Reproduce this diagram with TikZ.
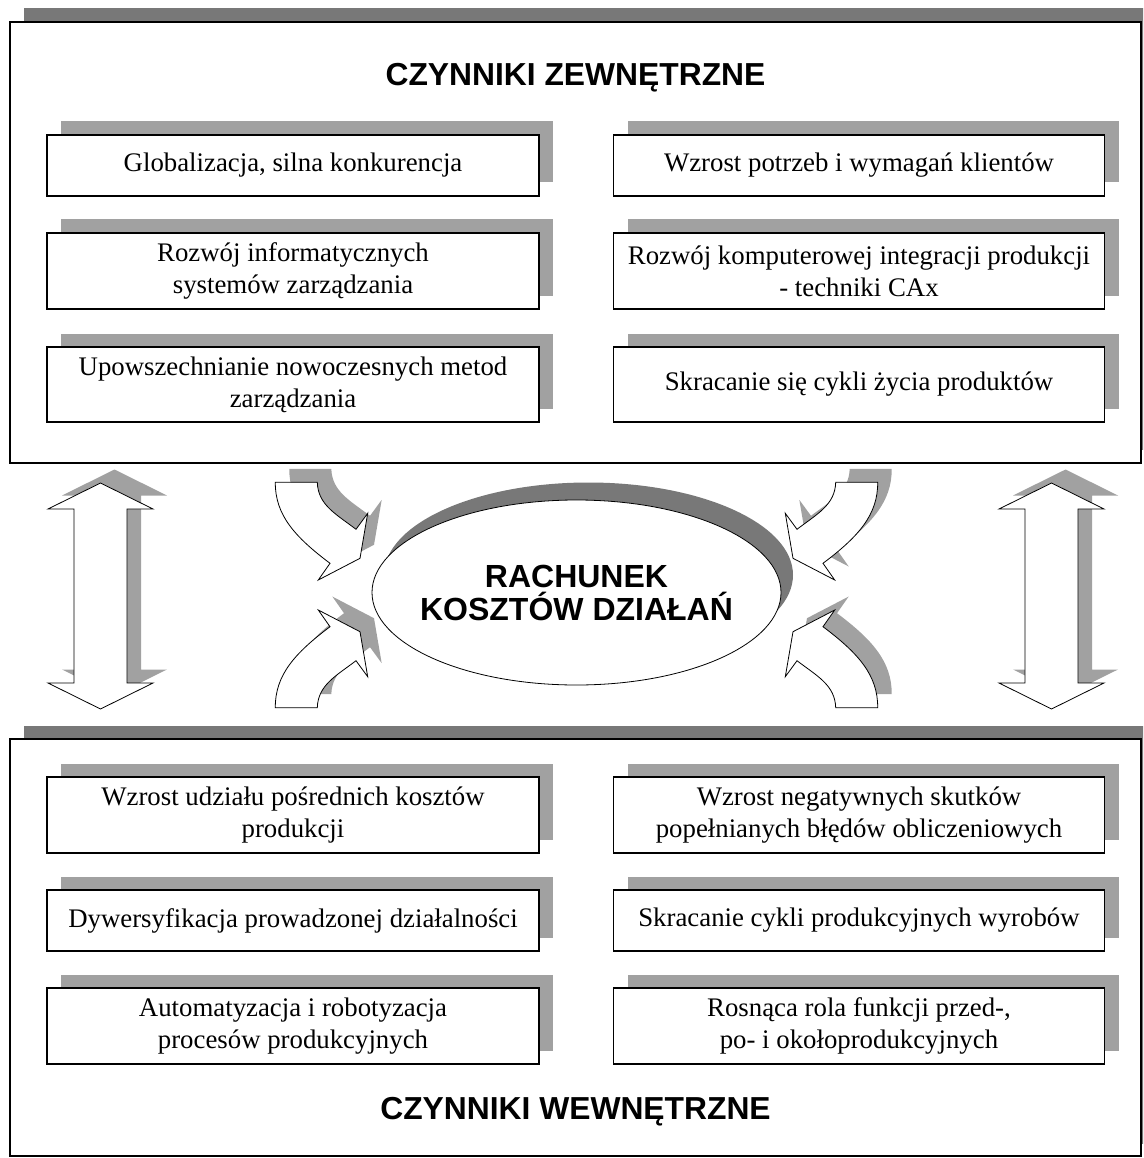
\documentclass[tikz,border=0pt]{standalone}
\usepackage{fontspec}
\setmainfont{Liberation Serif}
\newfontfamily\arialfont{Liberation Sans}
\usetikzlibrary{shapes.geometric,shadows}
\begin{document}
\begin{tikzpicture}[x=1pt,y=-1pt,
  frameshadow/.style={fill=black!53},
  framebox/.style={draw=black,line width=1.5pt,fill=white},
  factor/.style={draw=black,line width=1.5pt,fill=white,rectangle,inner sep=2pt,align=center,
     font=\fontsize{26.8}{32}\selectfont,
     drop shadow={shadow xshift=14pt,shadow yshift=13.5pt,fill=black!37,opacity=1}},
  lcol/.style={factor,minimum width=492pt},
  rcol/.style={factor,minimum width=491pt},
  oneline/.style={minimum height=61pt},
  twoline/.style={minimum height=76pt},
  titletext/.style={font=\arialfont\bfseries\fontsize{31.8}{34}\selectfont},
  arrshadow/.style={fill=black!37},
  arrbody/.style={draw=black,line width=0.8pt,fill=white,line join=miter}
]
\useasboundingbox (0,0) rectangle (1143,1158);
\clip (0,0) rectangle (1143,1158);

% frames
\fill[frameshadow] (24,8.5) rectangle (1155,449.5);
\draw[framebox] (10,22) rectangle (1141,463);
\fill[frameshadow] (24,725.5) rectangle (1155,1143.5);
\draw[framebox] (10,739) rectangle (1141,1156);

\node[titletext] (zew) at (575.5,78) {CZYNNIKI ZEWNĘTRZNE};
\node[titletext] (wew) at (575.5,1112) {CZYNNIKI WEWNĘTRZNE};

% external factors
\node[lcol,oneline] (z1) at (293,165.5) {Globalizacja, silna konkurencja};
\node[rcol,oneline] (z2) at (859,165.5) {Wzrost potrzeb i wymagań klientów};
\node[lcol,twoline] (z3) at (293,271) {Rozwój informatycznych\\systemów zarządzania};
\node[rcol,twoline] (z4) at (859,271) {Rozwój komputerowej integracji produkcji\\- techniki CAx};
\node[lcol,minimum height=75pt] (z5) at (293,384.5) {Upowszechnianie nowoczesnych metod\\zarządzania};
\node[rcol,minimum height=75pt] (z6) at (859,384.5) {Skracanie się cykli życia produktów};

% internal factors
\node[lcol,twoline] (w1) at (293,815) {Wzrost udziału pośrednich kosztów\\produkcji};
\node[rcol,twoline] (w2) at (859,815) {Wzrost negatywnych skutków\\popełnianych błędów obliczeniowych};
\node[lcol,oneline] (w3) at (293,920.5) {Dywersyfikacja prowadzonej działalności};
\node[rcol,oneline] (w4) at (859,920.5) {Skracanie cykli produkcyjnych wyrobów};
\node[lcol,twoline] (w5) at (293,1026) {Automatyzacja i robotyzacja\\procesów produkcyjnych};
\node[rcol,twoline] (w6) at (859,1026) {Rosnąca rola funkcji przed-,\\po- i okołoprodukcyjnych};

% vertical double arrows
\foreach \sx/\tx in {1/0,-1/1152} {
  \fill[arrshadow,shift={(\tx+14,-13.5)},xscale=\sx]
    (100.5,483) -- (153,509) -- (127,509) -- (127,683) -- (153,683) -- (100.5,709)
    -- (48,683) -- (74,683) -- (74,509) -- (48,509) -- cycle;
}
\foreach \sx/\tx in {1/0,-1/1152} {
  \draw[arrbody,shift={(\tx,0)},xscale=\sx]
    (100.5,483) -- (153,509) -- (127,509) -- (127,683) -- (153,683) -- (100.5,709)
    -- (48,683) -- (74,683) -- (74,509) -- (48,509) -- cycle;
}

% curved arrows
\foreach \sx/\sy/\tx/\ty in {1/1/0/0,-1/1/1153/0,1/-1/0/1190,-1/-1/1153/1190} {
  \fill[arrshadow,shift={(\tx+14,\ty-13.5)},xscale=\sx,yscale=\sy]
    (275.3,482.3) -- (317.3,482.3) .. controls (318,505) and (336,514) .. (356,529.3)
    -- (367.7,513.3) -- (360,558.3) -- (318.3,580) -- (330,563.3)
    .. controls (295,537) and (275,515) .. (275.3,482.3) -- cycle;
}
\foreach \sx/\sy/\tx/\ty in {1/1/0/0,-1/1/1153/0,1/-1/0/1190,-1/-1/1153/1190} {
  \draw[arrbody,shift={(\tx,\ty)},xscale=\sx,yscale=\sy]
    (275.3,482.3) -- (317.3,482.3) .. controls (318,505) and (336,514) .. (356,529.3)
    -- (367.7,513.3) -- (360,558.3) -- (318.3,580) -- (330,563.3)
    .. controls (295,537) and (275,515) .. (275.3,482.3) -- cycle;
}

% central ellipse
\coordinate (ec) at (576.5,592.5);
\fill[black!53] (588.5,575) ellipse [x radius=204.5, y radius=92.5];
\draw[line width=0.8pt,fill=white] (ec) ellipse [x radius=204.5, y radius=92.5];
\node[align=center,inner sep=0pt,
      font=\arialfont\bfseries\fontsize{32}{33}\selectfont] (rkd) at (ec)
      {RACHUNEK\\KOSZTÓW DZIAŁAŃ};
\end{tikzpicture}
\end{document}
